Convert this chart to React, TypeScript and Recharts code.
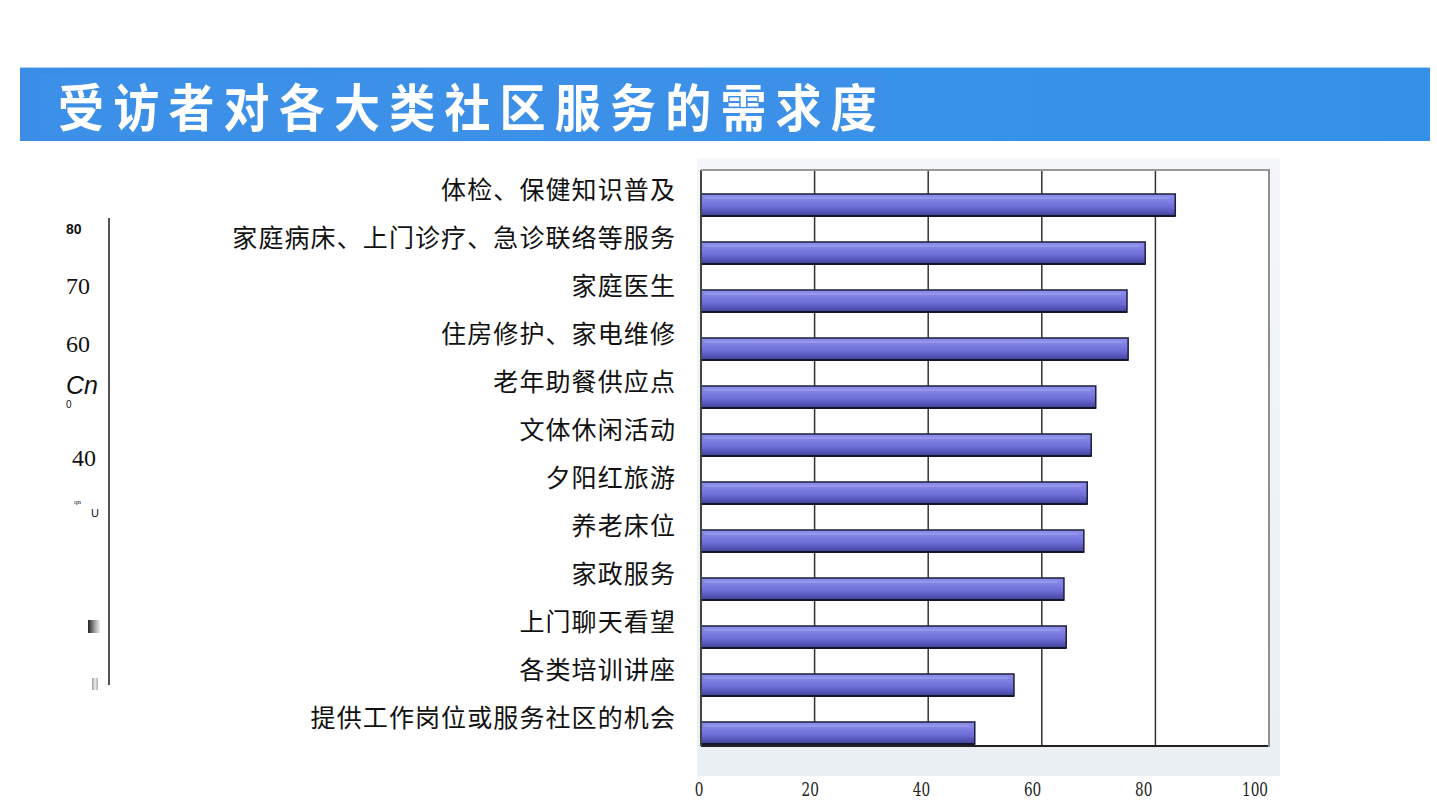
import { Bar, BarChart, CartesianGrid, XAxis, YAxis } from "recharts";

const categories = [
  "体检、保健知识普及",
  "家庭病床、上门诊疗、急诊联络等服务",
  "家庭医生",
  "住房修护、家电维修",
  "老年助餐供应点",
  "文体休闲活动",
  "夕阳红旅游",
  "养老床位",
  "家政服务",
  "上门聊天看望",
  "各类培训讲座",
  "提供工作岗位或服务社区的机会",
];
const values = [83.5, 78.2, 75.0, 75.2, 69.5, 68.7, 68.0, 67.4, 63.9, 64.3, 55.1, 48.2];
const xTicks = [0, 20, 40, 60, 80, 100];

const data = categories.map((name, i) => ({ name, value: values[i] }));

// tube-like bar, sits in the lower half of its band like the source image
function TubeBar(props: any) {
  const { x, y, width, height } = props;
  const yy = y + 11;
  return (
    <g>
      <rect x={x} y={yy} width={width} height={height} fill="url(#tube)" stroke="#1d1d3e" strokeWidth={1.5} />
      <line x1={x + 4} x2={x + width - 6} y1={yy + 4} y2={yy + 4} stroke="#b4b4f4" strokeWidth={1} opacity={0.7} />
      <line x1={x} x2={x + width} y1={yy + height} y2={yy + height} stroke="#15152e" strokeWidth={2} />
    </g>
  );
}

function CatTick(props: any) {
  const { x, y, payload } = props;
  return (
    <text x={x - 25} y={y - 6} textAnchor="end" dominantBaseline="central" fontSize={25} fill="#111"
      fontFamily="'Noto Sans CJK SC', serif" letterSpacing={1.1}>
      {payload.value}
    </text>
  );
}

// the scanned axis labels drift a little left as the value grows
function NumTick(props: any) {
  const { x, y, payload } = props;
  const tx = x - 2 - payload.value * 0.12;
  const ty = y + 42;
  return (
    <text x={tx} y={ty} textAnchor="middle" fontSize={19} fill="#222" fontFamily="'DejaVu Serif', serif"
      transform={`translate(${tx} ${ty}) scale(0.72 1) translate(${-tx} ${-ty})`}>
      {payload.value}
    </text>
  );
}

const oddText: any[] = [
  { t: "80", x: 66, y: 221, s: 14, w: 700, f: "Arial, sans-serif" },
  { t: "70", x: 66, y: 272, s: 24, w: 400, f: "'Liberation Serif', serif" },
  { t: "60", x: 66, y: 330, s: 24, w: 400, f: "'Liberation Serif', serif" },
  { t: "Cn", x: 66, y: 370, s: 25, w: 400, f: "'Liberation Sans', sans-serif", i: true },
  { t: "0", x: 66, y: 399, s: 10, w: 400, f: "'Liberation Sans', sans-serif" },
  { t: "40", x: 72, y: 444, s: 24, w: 400, f: "'Liberation Serif', serif" },
  { t: "qn", x: 74, y: 498, s: 7, w: 400, f: "'Liberation Serif', serif" },
  { t: "U", x: 91, y: 507, s: 11, w: 400, f: "'Liberation Sans', sans-serif" },
];

export default function App() {
  return (
    <div style={{ position: "absolute", left: 0, top: 0, width: 1437, height: 810, background: "#fff", overflow: "hidden" }}>
      {/* title banner */}
      <div style={{ position: "absolute", left: 20, top: 67, width: 1410, height: 73, background: "linear-gradient(90deg,#3a8de6,#3893ea 50%,#3590e8)", borderTop: "1px solid #a9d2f5" }} />
      <div style={{ position: "absolute", left: 40, top: 74, width: 845, height: 62, background: "#3d90e8" }} />
      <div style={{ position: "absolute", left: 58, top: 72, color: "#fff", fontSize: 46, fontWeight: 700, letterSpacing: 9.2, lineHeight: "66px", fontFamily: "'Noto Sans CJK SC', sans-serif", transform: "scaleY(1.1)", transformOrigin: "left center" }}>
        受访者对各大类社区服务的需求度
      </div>

      {/* stray left axis from the scanned slide */}
      <div style={{ position: "absolute", left: 108, top: 218, width: 1.5, height: 467, background: "#555" }} />
      {oddText.map((o) => (
        <div key={o.t + o.y} style={{ position: "absolute", left: o.x, top: o.y, fontSize: o.s, fontWeight: o.w, fontFamily: o.f, fontStyle: o.i ? "italic" : "normal", color: "#111", lineHeight: 1.2 }}>
          {o.t}
        </div>
      ))}
      <div style={{ position: "absolute", left: 88, top: 620, width: 12, height: 13, background: "linear-gradient(90deg,#222,#aaa 60%,#eee)" }} />
      <div style={{ position: "absolute", left: 92, top: 678, width: 6, height: 12, background: "linear-gradient(90deg,#999,#eee,#aaa)" }} />

      {/* picture background behind chart */}
      <div style={{ position: "absolute", left: 697, top: 158, width: 583, height: 618, background: "linear-gradient(180deg,#f4f6f9,#eef2f6 60%,#e9eff3)" }} />

      <div style={{ position: "absolute", left: 0, top: 150 }}>
        <BarChart width={1300} height={660} data={data} layout="vertical" barSize={22}
          margin={{ top: 20, right: 31, bottom: 14, left: 0 }}>
          <defs>
            <linearGradient id="tube" x1="0" y1="0" x2="0" y2="1">
              <stop offset="0%" stopColor="#9090ea" />
              <stop offset="25%" stopColor="#8383e6" />
              <stop offset="60%" stopColor="#6c6cd6" />
              <stop offset="100%" stopColor="#40409a" />
            </linearGradient>
          </defs>
          <CartesianGrid horizontal={false} stroke="#333" strokeWidth={1.5} fill="#fff" />
          <XAxis type="number" domain={[0, 100]} ticks={xTicks} axisLine={{ stroke: "#222", strokeWidth: 2 }} tickLine={false} height={50} tick={<NumTick />} interval={0} />
          <YAxis type="category" dataKey="name" width={701} axisLine={{ stroke: "#444", strokeWidth: 2 }} tickLine={false}
            tickSize={0} tickMargin={0} tick={<CatTick />} interval={0} />
          <Bar dataKey="value" shape={<TubeBar />} isAnimationActive={false} />
        </BarChart>
      </div>
      {/* top and right frame of the plot */}
      <div style={{ position: "absolute", left: 701, top: 169, width: 568, height: 2, background: "#999" }} />
      <div style={{ position: "absolute", left: 1268, top: 169, width: 2, height: 578, background: "#8f8f8f" }} />
    </div>
  );
}
